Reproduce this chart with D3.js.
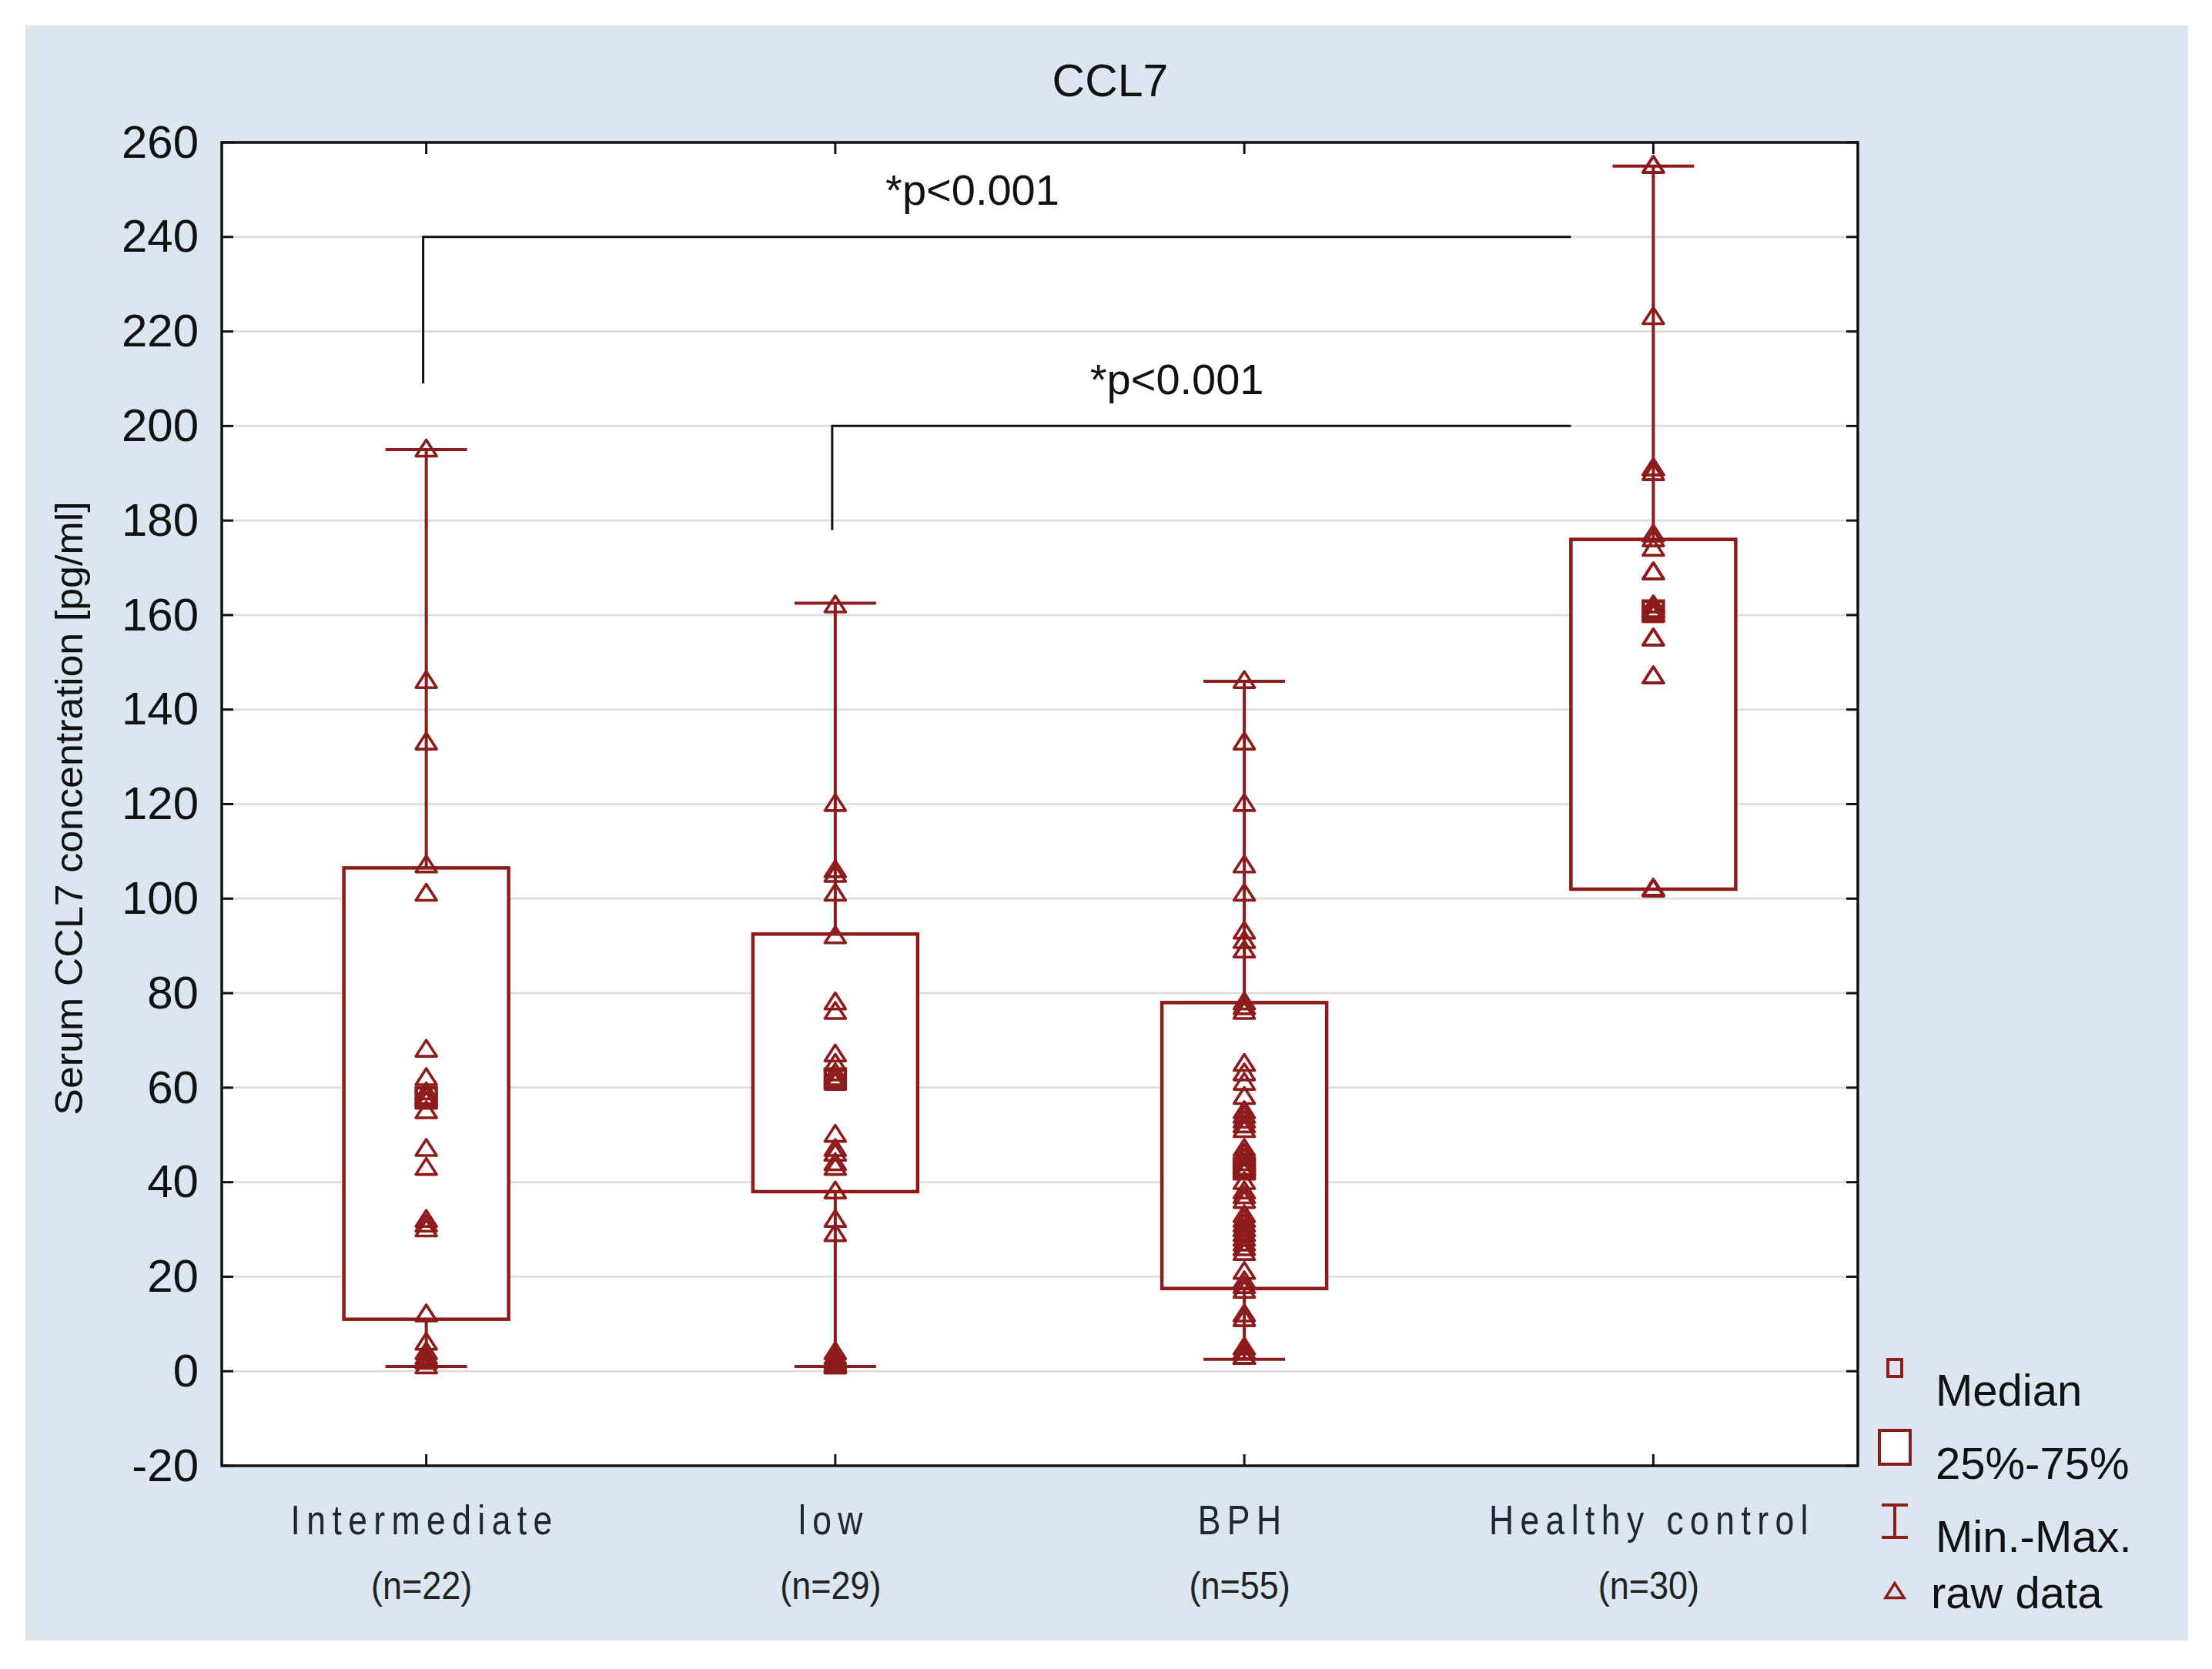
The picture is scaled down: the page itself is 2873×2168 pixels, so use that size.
<!DOCTYPE html>
<html>
<head>
<meta charset="utf-8">
<script src="https://cdn.jsdelivr.net/npm/d3@7"></script>
<style>
  html, body { margin: 0; padding: 0; background: #ffffff; }
  svg { display: block; }
</style>
</head>
<body>
<script>
// ---------------- DATA ----------------
const categories = ["Intermediate", "low", "BPH", "Healthy control"];
const nLabels = ["(n=22)", "(n=29)", "(n=55)", "(n=30)"];
const medians = [58, 62, 43, 161];
const q1 = [11, 38, 17.5, 102];
const q3 = [106.5, 92.5, 78, 176];
const mins = [1, 1, 2.5, 102];
const maxs = [195, 162.5, 146, 255];

const rawIntermediate = [195, 146, 133, 107, 101, 68, 62, 59, 58, 57, 55, 47, 43, 32, 31, 30, 12, 6, 4, 3, 2, 1];
const rawLow = [162, 120, 106, 105, 101, 92, 78, 76, 67, 65, 63, 62, 61, 50, 47, 46, 44, 43, 38, 32, 29, 4, 3, 2.5, 2, 1.5, 1, 1, 1.2];
const rawBPH = [146, 133, 120, 107, 101, 93, 91, 89, 78, 77, 76, 65, 63, 61, 58, 55, 54, 53, 52, 51,
                47, 46, 45, 44, 43, 43, 42, 40, 38, 37, 36, 33, 32, 31, 30, 30, 29, 28, 27, 26,
                25, 21, 19, 18, 17, 12, 11, 5, 4, 4, 3, 3, 3, 3, 3];
const rawHealthy = [255, 255, 223, 191, 191, 190, 177, 176, 174, 169, 169, 162, 162, 161, 161, 160, 160,
                    155, 155, 147, 147, 102, 102, 102, 102, 102, 102, 102, 102, 102];
const rawData = [rawIntermediate, rawLow, rawBPH, rawHealthy];

const yTickValues = [-20, 0, 20, 40, 60, 80, 100, 120, 140, 160, 180, 200, 220, 240, 260];
const yDomain = [-20, 260];

const brackets = [
  { from: 0, to: 3, bottom: 209, top: 240, label: "*p<0.001" },
  { from: 1, to: 3, bottom: 178, top: 200, label: "*p<0.001" }
];

const title = "CCL7";
const yLabel = "Serum CCL7 concentration [pg/ml]";
const legendItems = ["Median", "25%-75%", "Min.-Max.", "raw data"];

// ---------------- LAYOUT ----------------
const W = 2873, H = 2168;
const panel = { x: 33, y: 33, w: 2842 - 33, h: 2131 - 33 };
const plot = { left: 288, right: 2413, top: 185, bottom: 1904 };
const RED = "#8e1b1b";
const FONT = "'Liberation Sans', Arial, sans-serif";

const svg = d3.select("body").append("svg")
  .attr("width", W).attr("height", H)
  .attr("viewBox", `0 0 ${W} ${H}`);

svg.append("rect").attr("width", W).attr("height", H).attr("fill", "#ffffff");
svg.append("rect")
  .attr("x", panel.x).attr("y", panel.y).attr("width", panel.w).attr("height", panel.h)
  .attr("fill", "#dce6f1");

const x = d3.scaleBand().domain(categories).range([plot.left, plot.right]).paddingInner(0).paddingOuter(0);
const y = d3.scaleLinear().domain(yDomain).range([plot.bottom, plot.top]);
const cx = c => x(c) + x.bandwidth() / 2;

// plot background
svg.append("rect")
  .attr("x", plot.left).attr("y", plot.top)
  .attr("width", plot.right - plot.left).attr("height", plot.bottom - plot.top)
  .attr("fill", "#ffffff");

// gridlines
svg.append("g").selectAll("line").data(yTickValues.filter(v => v > yDomain[0] && v < yDomain[1]))
  .join("line")
  .attr("x1", plot.left).attr("x2", plot.right)
  .attr("y1", d => y(d)).attr("y2", d => y(d))
  .attr("stroke", "#dcdcdc").attr("stroke-width", 2.5);

// y axis (left) tick labels via d3 axis
const yAxis = d3.axisLeft(y).tickValues(yTickValues).tickSize(0).tickPadding(30).tickFormat(d => String(d));
const gy = svg.append("g").attr("transform", `translate(${plot.left},0)`).call(yAxis);
gy.select(".domain").remove();
gy.selectAll("text")
  .attr("font-family", FONT).attr("font-size", 60).attr("fill", "#111");

// inside ticks left & right
const tickLen = 15;
svg.append("g").selectAll("line").data(yTickValues).join("line")
  .attr("x1", plot.left).attr("x2", plot.left + tickLen)
  .attr("y1", d => y(d)).attr("y2", d => y(d))
  .attr("stroke", "#111").attr("stroke-width", 3);
svg.append("g").selectAll("line").data(yTickValues).join("line")
  .attr("x1", plot.right).attr("x2", plot.right - tickLen)
  .attr("y1", d => y(d)).attr("y2", d => y(d))
  .attr("stroke", "#111").attr("stroke-width", 3);
// top & bottom category ticks
svg.append("g").selectAll("line").data(categories).join("line")
  .attr("x1", d => cx(d)).attr("x2", d => cx(d))
  .attr("y1", plot.top).attr("y2", plot.top + tickLen)
  .attr("stroke", "#111").attr("stroke-width", 3);
svg.append("g").selectAll("line").data(categories).join("line")
  .attr("x1", d => cx(d)).attr("x2", d => cx(d))
  .attr("y1", plot.bottom).attr("y2", plot.bottom - tickLen)
  .attr("stroke", "#111").attr("stroke-width", 3);

// x axis labels (condensed look via horizontal scale)
const xg = svg.append("g");
xg.selectAll("text.cat").data(categories).join("text")
  .attr("class", "cat")
  .attr("transform", d => `translate(${cx(d) - 2},1993) scale(0.84,1)`)
  .attr("text-anchor", "middle")
  .attr("font-family", FONT).attr("font-size", 53)
  .attr("letter-spacing", 10)
  .attr("fill", "#23233a")
  .text(d => d);
xg.selectAll("text.n").data(categories).join("text")
  .attr("class", "n")
  .attr("transform", d => `translate(${cx(d) - 6},2077) scale(0.9,1)`)
  .attr("text-anchor", "middle")
  .attr("font-family", FONT).attr("font-size", 50)
  .attr("fill", "#222")
  .text((d, i) => nLabels[i]);

// ---------------- BOXES ----------------
const boxW = 214, capW = 106;
const boxes = svg.append("g");
categories.forEach((c, i) => {
  const xc = cx(c);
  boxes.append("line")
    .attr("x1", xc).attr("x2", xc).attr("y1", y(mins[i])).attr("y2", y(maxs[i]))
    .attr("stroke", RED).attr("stroke-width", 4);
  [mins[i], maxs[i]].forEach(v => {
    boxes.append("line")
      .attr("x1", xc - capW / 2).attr("x2", xc + capW / 2)
      .attr("y1", y(v)).attr("y2", y(v))
      .attr("stroke", RED).attr("stroke-width", 4);
  });
  boxes.append("rect")
    .attr("x", xc - boxW / 2).attr("width", boxW)
    .attr("y", y(q3[i])).attr("height", y(q1[i]) - y(q3[i]))
    .attr("fill", "#ffffff").attr("stroke", RED).attr("stroke-width", 4.5);
});

// raw data triangles
const triPath = (xc, yc, w, h) => {
  const p = d3.path();
  p.moveTo(xc, yc - h * 0.6);
  p.lineTo(xc + w / 2, yc + h * 0.4);
  p.lineTo(xc - w / 2, yc + h * 0.4);
  p.closePath();
  return p.toString();
};
const pts = svg.append("g");
categories.forEach((c, i) => {
  pts.selectAll(null).data(rawData[i]).join("path")
    .attr("d", v => triPath(cx(c), y(v), 27, 21))
    .attr("fill", "none").attr("stroke", RED).attr("stroke-width", 3.6)
    .attr("stroke-linejoin", "round");
});

// medians
svg.append("g").selectAll("rect").data(categories).join("rect")
  .attr("x", d => cx(d) - 13).attr("width", 26)
  .attr("y", (d, i) => y(medians[i]) - 12).attr("height", 24)
  .attr("fill", "none").attr("stroke", RED).attr("stroke-width", 4.5);

// plot border
svg.append("rect")
  .attr("x", plot.left).attr("y", plot.top)
  .attr("width", plot.right - plot.left).attr("height", plot.bottom - plot.top)
  .attr("fill", "none").attr("stroke", "#111").attr("stroke-width", 3.5);

// ---------------- BRACKETS ----------------
const bg = svg.append("g");
brackets.forEach(b => {
  const x1 = cx(categories[b.from]) - 4;
  const x2 = cx(categories[b.to]) - boxW / 2;
  bg.append("path")
    .attr("d", `M${x1},${y(b.bottom)}V${y(b.top)}H${x2}`)
    .attr("fill", "none").attr("stroke", "#111").attr("stroke-width", 3);
  bg.append("text")
    .attr("x", (x1 + x2) / 2 - 32).attr("y", y(b.top + 10) + 20)
    .attr("text-anchor", "middle")
    .attr("font-family", FONT).attr("font-size", 56).attr("fill", "#111")
    .text(b.label);
});

// ---------------- TITLES ----------------
svg.append("text")
  .attr("x", 1442).attr("y", 125)
  .attr("text-anchor", "middle")
  .attr("font-family", FONT).attr("font-size", 59).attr("fill", "#111")
  .text(title);

svg.append("text")
  .attr("transform", "translate(90,1050) rotate(-90) scale(1,0.95)")
  .attr("text-anchor", "middle").attr("dominant-baseline", "central")
  .attr("font-family", FONT).attr("font-size", 52).attr("fill", "#111")
  .text(yLabel);

// ---------------- LEGEND ----------------
const lg = svg.append("g");
const lx = 2461;
lg.append("rect").attr("x", lx - 9).attr("y", 1766).attr("width", 18).attr("height", 22)
  .attr("fill", "none").attr("stroke", RED).attr("stroke-width", 4);
lg.append("rect").attr("x", lx - 20).attr("y", 1858).attr("width", 40).attr("height", 44)
  .attr("fill", "#ffffff").attr("stroke", RED).attr("stroke-width", 4);
lg.append("path").attr("d", `M${lx - 17},1955H${lx + 17}M${lx},1955V1997M${lx - 17},1997H${lx + 17}`)
  .attr("fill", "none").attr("stroke", RED).attr("stroke-width", 4);
lg.append("path").attr("d", triPath(lx, 2068, 24, 19))
  .attr("fill", "none").attr("stroke", RED).attr("stroke-width", 3.5);

const legendY = [1805, 1900, 1995, 2068];
lg.selectAll("text").data(legendItems).join("text")
  .attr("x", (d, i) => i === 3 ? 2508 : 2514)
  .attr("y", (d, i) => legendY[i])
  .attr("dominant-baseline", "central")
  .attr("font-family", FONT).attr("font-size", 58).attr("fill", "#111")
  .text(d => d);
</script>
</body>
</html>
